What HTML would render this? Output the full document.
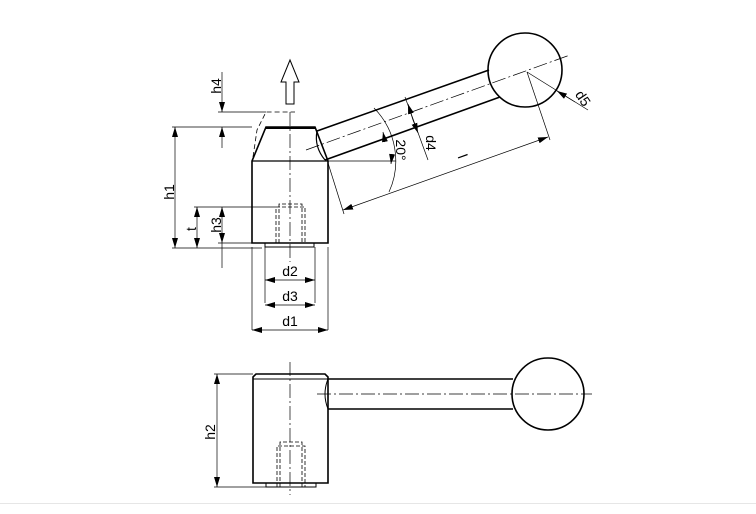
<!DOCTYPE html>
<html><head><meta charset="utf-8"><style>
html,body{margin:0;padding:0;background:#fff;}
svg{display:block;}
text{font-family:"Liberation Sans",sans-serif;font-size:14px;fill:#000;}
</style></head><body>
<svg width="756" height="514" viewBox="0 0 756 514" xmlns="http://www.w3.org/2000/svg">
<defs>
<marker id="a" viewBox="0 0 10 6" refX="10" refY="3" markerWidth="10" markerHeight="6" orient="auto-start-reverse" markerUnits="userSpaceOnUse"><path d="M0,0 L10,3 L0,6z" fill="#000"/></marker>
</defs>
<g fill="none" stroke="#000">
<path d="M252,243 L252,161 L266,127 L315,127 L328,161 L328,243 Z" stroke-width="1.6"/>
<line x1="252" y1="161" x2="328" y2="161" stroke-width="1.2"/>
<line x1="266" y1="128" x2="315" y2="128" stroke-width="2"/>
<rect x="265" y="243" width="49" height="4" stroke-width="1"/>
<path d="M253,157 L257,130 L266,112 L295,112" stroke-width="0.8" stroke-dasharray="5,3"/>
<path d="M276,243 L276,207 L305,207 L305,243 M279,243 L279,204 L302,204 L302,243" stroke-width="0.8" stroke-dasharray="4,2"/>
<line x1="290" y1="112" x2="290" y2="262" stroke-width="0.7" stroke-dasharray="14,3,2,3"/>
<path d="M286,104 L294,104 L294,82 L299,82 L290,60 L281,82 L286,82 Z" stroke-width="1"/>
<line x1="172" y1="127" x2="252" y2="127" stroke-width="0.7"/>
<line x1="172" y1="248" x2="262" y2="248" stroke-width="0.7"/>
<line x1="175" y1="127" x2="175" y2="248" stroke-width="0.7" marker-start="url(#a)" marker-end="url(#a)"/>
<line x1="218" y1="112" x2="266" y2="112" stroke-width="0.7"/>
<line x1="222" y1="72" x2="222" y2="112" stroke-width="0.7" marker-end="url(#a)"/>
<line x1="222" y1="148" x2="222" y2="127" stroke-width="0.7" marker-end="url(#a)"/>
<line x1="194" y1="207" x2="276" y2="207" stroke-width="0.7"/>
<line x1="218" y1="243" x2="252" y2="243" stroke-width="0.7"/>
<line x1="197" y1="207" x2="197" y2="248" stroke-width="0.7" marker-start="url(#a)" marker-end="url(#a)"/>
<line x1="222" y1="207" x2="222" y2="243" stroke-width="0.7" marker-start="url(#a)" marker-end="url(#a)"/>
<line x1="222" y1="243" x2="222" y2="268" stroke-width="0.7"/>
<line x1="252" y1="247" x2="252" y2="330" stroke-width="0.7"/>
<line x1="328" y1="247" x2="328" y2="330" stroke-width="0.7"/>
<line x1="265" y1="247" x2="265" y2="303" stroke-width="0.7"/>
<line x1="315" y1="247" x2="315" y2="303" stroke-width="0.7"/>
<line x1="265" y1="280" x2="315" y2="280" stroke-width="0.7" marker-start="url(#a)" marker-end="url(#a)"/>
<line x1="265" y1="305" x2="315" y2="305" stroke-width="0.7" marker-start="url(#a)" marker-end="url(#a)"/>
<line x1="252" y1="330" x2="328" y2="330" stroke-width="0.7" marker-start="url(#a)" marker-end="url(#a)"/>
<path d="M317,131 L489,70" stroke-width="1.6"/>
<path d="M325,160 L500,97" stroke-width="1.6"/>
<path d="M317,131 Q314,147 325,160" stroke-width="1.2"/>
<circle cx="525" cy="70" r="37" stroke-width="1.6"/>
<line x1="306" y1="150" x2="570" y2="55" stroke-width="0.7" stroke-dasharray="14,3,2,3"/>
<line x1="328" y1="161" x2="396" y2="161" stroke-width="0.7"/>
<path d="M374,108 A75,75 0 0 1 389,192" stroke-width="0.7"/>
<line x1="385" y1="142" x2="383" y2="132" stroke-width="0.7" marker-end="url(#a)"/>
<line x1="392" y1="155" x2="391" y2="164" stroke-width="0.7" marker-end="url(#a)"/>
<line x1="405" y1="97" x2="428" y2="160" stroke-width="0.7"/>
<line x1="413" y1="120" x2="408" y2="104" stroke-width="0.7" marker-end="url(#a)"/>
<line x1="413" y1="120" x2="418" y2="133" stroke-width="0.7" marker-end="url(#a)"/>
<line x1="328" y1="163" x2="344" y2="214" stroke-width="0.7"/>
<line x1="527" y1="72" x2="550" y2="140" stroke-width="0.7"/>
<line x1="343" y1="210" x2="548" y2="137" stroke-width="0.7" marker-start="url(#a)" marker-end="url(#a)"/>
<line x1="527" y1="72" x2="588" y2="110" stroke-width="0.7"/>
<line x1="575" y1="102" x2="557" y2="91" stroke-width="0.7" marker-end="url(#a)"/>
<path d="M253,483 L253,377 L256,374 L325,374 L328,377 L328,483 Z" stroke-width="1.6"/>
<line x1="253" y1="379" x2="328" y2="379" stroke-width="1"/>
<rect x="266" y="483" width="50" height="4" stroke-width="1"/>
<path d="M328,379 L513,379 M328,409 L513,409" stroke-width="1.6"/>
<path d="M328,379 Q322,394 328,409" stroke-width="1"/>
<circle cx="548" cy="394" r="36" stroke-width="1.6"/>
<line x1="317" y1="394" x2="592" y2="394" stroke-width="0.7" stroke-dasharray="14,3,2,3"/>
<line x1="290" y1="362" x2="290" y2="495" stroke-width="0.7" stroke-dasharray="14,3,2,3"/>
<path d="M277,487 L277,446 L305,446 L305,487 M280,487 L280,442 L302,442 L302,487" stroke-width="0.8" stroke-dasharray="4,2"/>
<line x1="214" y1="374" x2="253" y2="374" stroke-width="0.7"/>
<line x1="214" y1="487" x2="266" y2="487" stroke-width="0.7"/>
<line x1="217" y1="374" x2="217" y2="487" stroke-width="0.7" marker-start="url(#a)" marker-end="url(#a)"/>
</g>
<line x1="0" y1="503.5" x2="756" y2="503.5" stroke="#e6e6e6" stroke-width="1"/>
<text transform="translate(174,192) rotate(-90)" text-anchor="middle">h1</text>
<text transform="translate(221,86) rotate(-90)" text-anchor="middle">h4</text>
<text transform="translate(196,229) rotate(-90)" text-anchor="middle">t</text>
<text transform="translate(221,225) rotate(-90)" text-anchor="middle">h3</text>
<text x="290" y="276" text-anchor="middle">d2</text>
<text x="290" y="301" text-anchor="middle">d3</text>
<text x="290" y="326" text-anchor="middle">d1</text>
<text transform="translate(396,150) rotate(90)" text-anchor="middle">20°</text>
<text transform="translate(426,143) rotate(90)" text-anchor="middle">d4</text>
<text transform="translate(458,158) rotate(70)" text-anchor="middle">l</text>
<text transform="translate(579,101) rotate(56)" text-anchor="middle">d5</text>
<text transform="translate(215,432) rotate(-90)" text-anchor="middle">h2</text>
</svg>
</body></html>
